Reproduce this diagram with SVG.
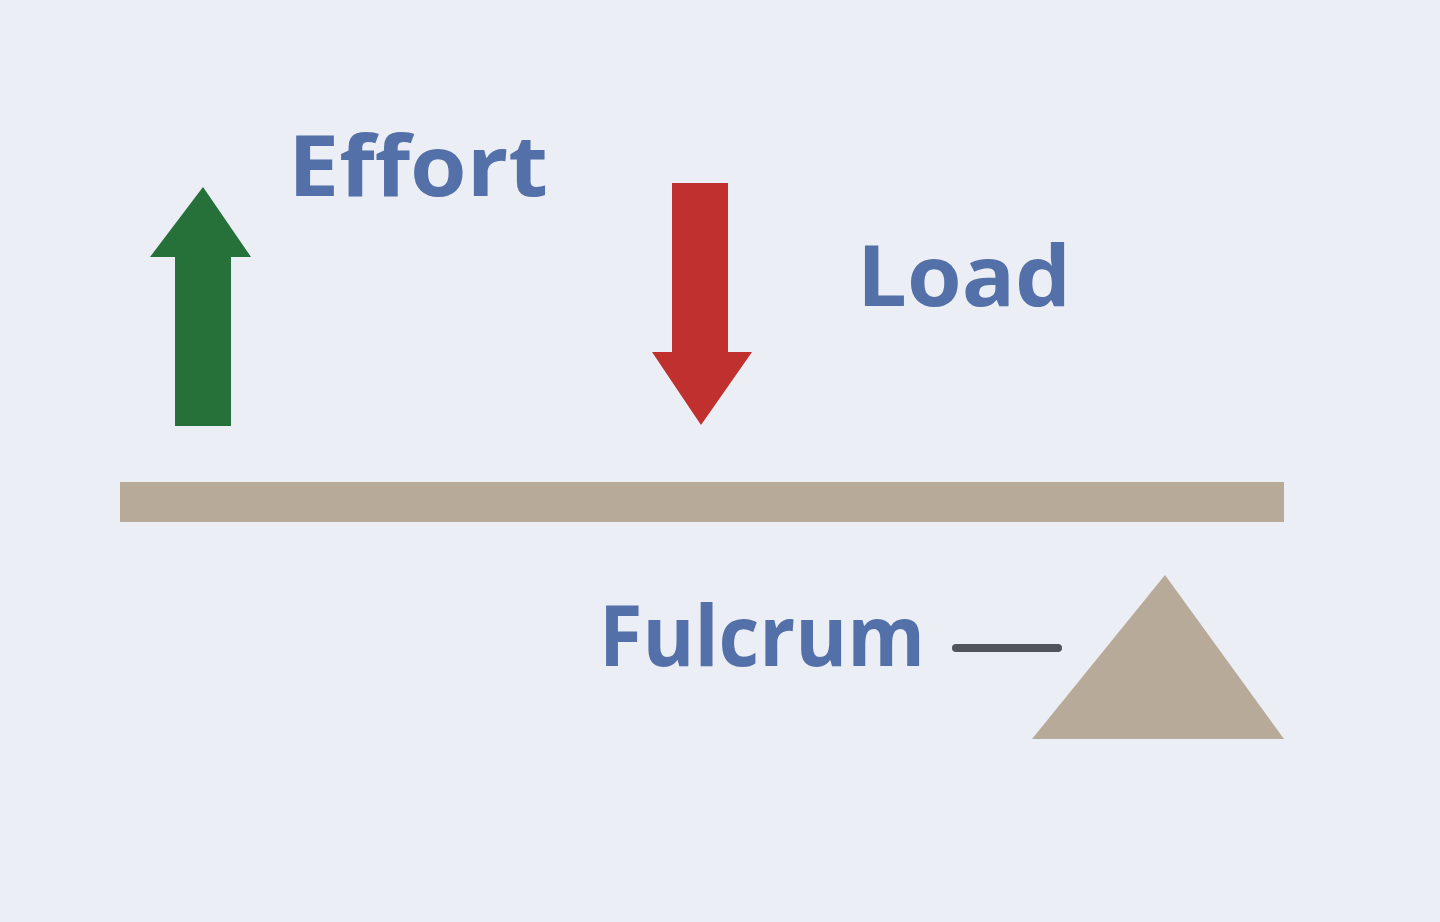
<svg xmlns="http://www.w3.org/2000/svg" width="1440" height="922" viewBox="0 0 1440 922">
<style>
.lbl{font-family:"Open Sans","Liberation Sans",sans-serif;font-weight:700;fill:#5470a8;font-size:84px}
.tan{fill:#b8aa98}
</style>
<rect width="1440" height="922" fill="#ebeef4"/>
<g id="beam"><rect class="tan" x="120" y="482" width="1164" height="40"/></g>
<g id="fulcrum"><polygon class="tan" points="1165,575 1284,739 1032,739"/></g>
<g id="effort-arrow"><polygon fill="#26703a" points="203,187 251,257 231,257 231,426 175,426 175,257 150,257"/></g>
<g id="load-arrow"><polygon fill="#c0302f" points="672,183 728,183 728,352 752,352 701,425 652,352 672,352"/></g>
<g id="connectors"><line x1="956" y1="648" x2="1058" y2="648" stroke="#50535a" stroke-width="8" stroke-linecap="round"/></g>
<g id="labels">
<text class="lbl" x="288" y="196" textLength="260" lengthAdjust="spacingAndGlyphs">Effort</text>
<text class="lbl" x="857" y="306" textLength="214" lengthAdjust="spacingAndGlyphs">Load</text>
<text class="lbl" x="599" y="666" textLength="326" lengthAdjust="spacingAndGlyphs">Fulcrum</text>
</g>
</svg>
